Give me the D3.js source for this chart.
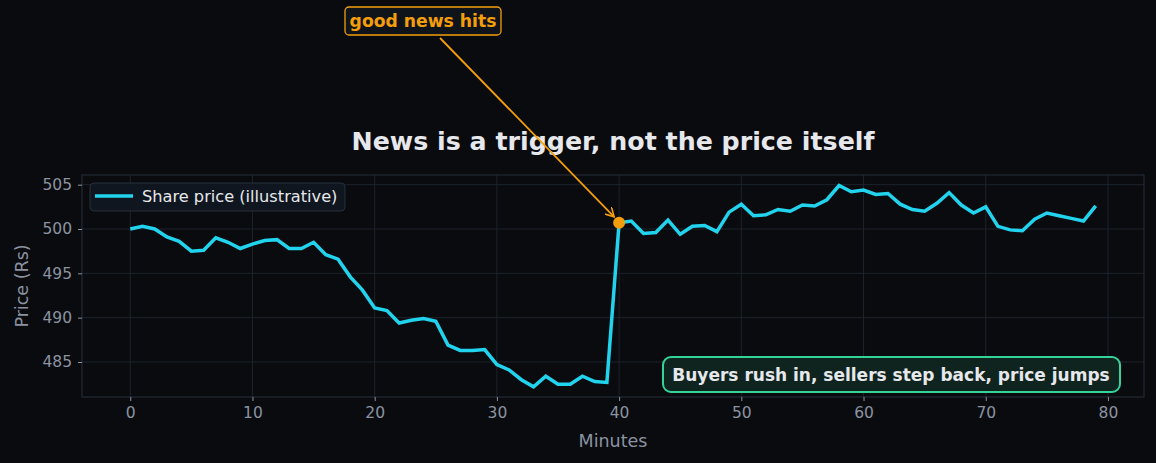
<!DOCTYPE html>
<html>
<head>
<meta charset="utf-8">
<script src="https://cdn.jsdelivr.net/npm/d3@7"></script>
<style>
  body { margin: 0; background: #0a0b0f; }
  svg { display: block; font-family: "DejaVu Sans", sans-serif; }
</style>
</head>
<body>
<div id="chart"></div>
<script>
// data
var minutes = d3.range(0, 80);
var price = [
  500.0, 500.3, 500.0, 499.1, 498.6, 497.5, 497.6, 499.0, 498.5, 497.8,
  498.3, 498.7, 498.8, 497.8, 497.8, 498.5, 497.1, 496.6, 494.6, 493.1,
  491.1, 490.8, 489.4, 489.7, 489.9, 489.6, 486.9, 486.3, 486.3, 486.4,
  484.7, 484.1, 483.0, 482.2, 483.4, 482.5, 482.5, 483.4, 482.8, 482.7,
  500.7, 500.9, 499.5, 499.6, 501.0, 499.4, 500.3, 500.4, 499.7, 501.9,
  502.8, 501.5, 501.6, 502.2, 502.0, 502.7, 502.6, 503.3, 504.9, 504.2,
  504.4, 503.9, 504.0, 502.8, 502.2, 502.0, 502.9, 504.1, 502.7, 501.8,
  502.5, 500.3, 499.9, 499.8, 501.1, 501.8, 501.5, 501.2, 500.9, 502.6
];
var xTicks = [0, 10, 20, 30, 40, 50, 60, 70, 80];
var yTicks = [485, 490, 495, 500, 505];
var newsMinute = 40;

var W = 1156, H = 463;
var margin = {top: 175, right: 12, bottom: 66, left: 82},
    width = W - margin.left - margin.right,
    height = H - margin.top - margin.bottom;

var svg = d3.select("#chart").append("svg")
    .attr("width", W).attr("height", H);

svg.append("rect").attr("width", W).attr("height", H).attr("fill", "#0a0b0f");

var g = svg.append("g")
    .attr("transform", "translate(" + margin.left + "," + margin.top + ")");

// matplotlib style 5% margins
var x = d3.scaleLinear().domain([-3.95, 82.95]).range([0, width]);
var y = d3.scaleLinear().domain([481.05, 506.09]).range([height, 0]);

// grid
g.append("g").selectAll("line").data(xTicks).enter().append("line")
    .attr("x1", d => x(d)).attr("x2", d => x(d))
    .attr("y1", 0).attr("y2", height)
    .attr("stroke", "#1c232d").attr("stroke-width", 1);
g.append("g").selectAll("line").data(yTicks).enter().append("line")
    .attr("x1", 0).attr("x2", width)
    .attr("y1", d => y(d)).attr("y2", d => y(d))
    .attr("stroke", "#1c232d").attr("stroke-width", 1);

// frame
g.append("rect").attr("width", width).attr("height", height)
    .attr("fill", "none").attr("stroke", "#26303c").attr("stroke-width", 1);

// axes
var xAxis = g.append("g")
    .attr("transform", "translate(0," + height + ")")
    .call(d3.axisBottom(x).tickValues(xTicks).tickSize(4).tickPadding(6));
var yAxis = g.append("g")
    .call(d3.axisLeft(y).tickValues(yTicks).tickSize(4).tickPadding(6));
[xAxis, yAxis].forEach(function (a) {
  a.select(".domain").remove();
  a.selectAll(".tick line").attr("stroke", "#8b93a1");
  a.selectAll(".tick text").attr("fill", "#8b93a1")
      .style("font-size", "15.5px").style("font-family", "DejaVu Sans");
});

g.append("text")
    .attr("x", width / 2).attr("y", height + 50)
    .attr("text-anchor", "middle")
    .attr("fill", "#8b93a1").style("font-size", "17.5px")
    .text("Minutes");
g.append("text")
    .attr("transform", "translate(-54," + (height / 2) + ") rotate(-90)")
    .attr("text-anchor", "middle")
    .attr("fill", "#8b93a1").style("font-size", "17.5px")
    .text("Price (Rs)");

// title
svg.append("text")
    .attr("x", margin.left + width / 2).attr("y", 150)
    .attr("text-anchor", "middle")
    .attr("fill", "#e6e8ec").style("font-size", "25.3px").style("font-weight", "bold")
    .text("News is a trigger, not the price itself");

// price line
var line = d3.line()
    .x((d, i) => x(minutes[i]))
    .y(d => y(d));
g.append("path").datum(price)
    .attr("d", line)
    .attr("fill", "none")
    .attr("stroke", "#22d3ee")
    .attr("stroke-width", 3.5)
    .attr("stroke-linejoin", "miter");

// news dot
var nx = x(newsMinute), ny = y(price[newsMinute]);
g.append("circle").attr("cx", nx).attr("cy", ny).attr("r", 6)
    .attr("fill", "#f59e0b");

// legend
var leg = g.append("g").attr("transform", "translate(8,8)");
leg.append("rect").attr("width", 255).attr("height", 28).attr("rx", 4)
    .attr("fill", "#10161f").attr("stroke", "#26303c");
leg.append("line").attr("x1", 5).attr("x2", 43).attr("y1", 13).attr("y2", 13)
    .attr("stroke", "#22d3ee").attr("stroke-width", 3.5);
leg.append("text").attr("x", 52).attr("y", 19)
    .attr("fill", "#e6e8ec").style("font-size", "16.2px")
    .text("Share price (illustrative)");

// annotation "good news hits"
var ann = svg.append("g");
ann.append("defs").append("marker")
    .attr("id", "ah").attr("viewBox", "0 0 10 10")
    .attr("refX", 9).attr("refY", 5)
    .attr("markerWidth", 10).attr("markerHeight", 10)
    .attr("markerUnits", "userSpaceOnUse")
    .attr("orient", "auto")
    .append("path").attr("d", "M0,0 L9,5 L0,10")
    .attr("fill", "none").attr("stroke", "#f59e0b").attr("stroke-width", 1.6);
ann.append("line")
    .attr("x1", 440).attr("y1", 38)
    .attr("x2", margin.left + nx - 5).attr("y2", margin.top + ny - 6)
    .attr("stroke", "#f59e0b").attr("stroke-width", 1.8)
    .attr("marker-end", "url(#ah)");
ann.append("rect").attr("x", 345).attr("y", 7).attr("width", 156).attr("height", 28)
    .attr("rx", 4).attr("fill", "#0f141b").attr("stroke", "#f59e0b").attr("stroke-width", 1.3);
ann.append("text").attr("x", 423).attr("y", 27)
    .attr("text-anchor", "middle")
    .attr("fill", "#f59e0b").style("font-size", "17.2px").style("font-weight", "bold")
    .text("good news hits");

// bottom-right note
var note = svg.append("g");
note.append("rect").attr("x", 663).attr("y", 357).attr("width", 457).attr("height", 35)
    .attr("rx", 8).attr("fill", "#10241f").attr("stroke", "#34d399").attr("stroke-width", 2);
note.append("text").attr("x", 891).attr("y", 380.5)
    .attr("text-anchor", "middle")
    .attr("fill", "#e6e8ec").style("font-size", "17px").style("font-weight", "bold")
    .text("Buyers rush in, sellers step back, price jumps");
</script>
</body>
</html>
